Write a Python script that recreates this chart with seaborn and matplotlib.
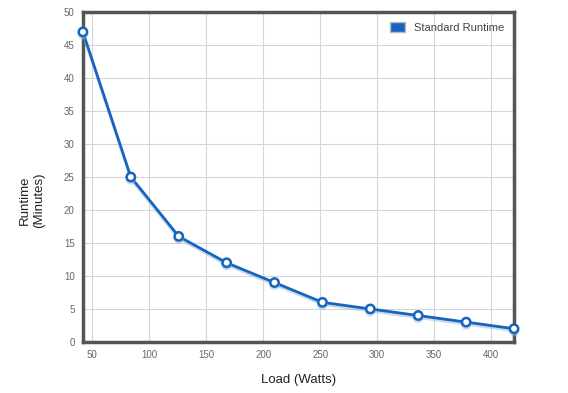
import numpy as np
import pandas as pd
import matplotlib
matplotlib.use("Agg")
import matplotlib.pyplot as plt
import matplotlib.patheffects as pe
from matplotlib.patches import Patch
import seaborn as sns

load_watts = [42, 84, 126, 168, 210, 252, 294, 336, 378, 420]
runtime_min = [47, 25, 16, 12, 9, 6, 5, 4, 3, 2]
series_name = "Standard Runtime"

df = pd.DataFrame({"Load": load_watts, "Runtime": runtime_min})

sns.set_style("white")
plt.rcParams["font.family"] = ["Arial", "Liberation Sans", "DejaVu Sans"]

fig = plt.figure(figsize=(5.68, 3.93), dpi=100)
ax = fig.add_axes([0.146, 0.130, 0.759, 0.839])

blue = "#1565c0"
sns.lineplot(data=df, x="Load", y="Runtime", ax=ax, color=blue, linewidth=2,
             marker="o", markersize=6, markerfacecolor="white",
             markeredgecolor=blue, markeredgewidth=1.8, clip_on=False, zorder=5,
             path_effects=[pe.SimpleLineShadow(offset=(0, -1.5), shadow_color="#9ab6d8", alpha=0.5),
                           pe.Normal()])

ax.set_xlim(42, 420)
ax.set_ylim(0, 50)
ax.set_xticks(range(50, 401, 50))
ax.set_yticks(range(0, 51, 5))
ax.grid(True, color="#d6d6d6", linewidth=0.8)
ax.set_axisbelow(True)
for s in ax.spines.values():
    s.set_color("#555555")
    s.set_linewidth(2.5)
ax.tick_params(axis="both", labelsize=7, colors="#666666", length=0, pad=6)

ax.set_xlabel("Load (Watts)", fontsize=9.5, color="#222222", labelpad=10)
ax.set_ylabel("Runtime\n(Minutes)", fontsize=9.5, color="#222222")
ax.yaxis.set_label_coords(-0.088, 0.43)

ax.legend(handles=[Patch(facecolor=blue, edgecolor="#bbbbbb", label=series_name)],
          loc="upper right", frameon=False, fontsize=8, handlelength=1.3, handleheight=1.0,
          labelcolor="#444444")

fig.savefig("out.png", dpi=100)
